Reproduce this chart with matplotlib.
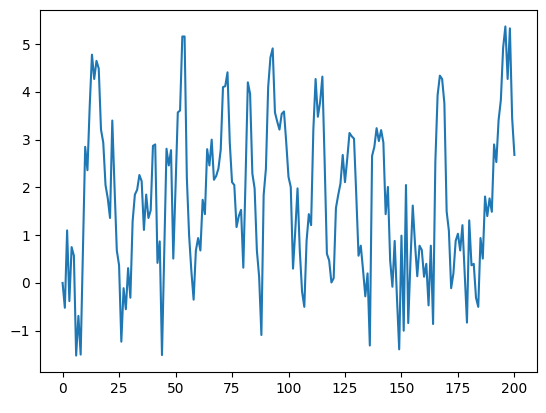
import numpy as np
import matplotlib
matplotlib.use('Agg')
import matplotlib.pyplot as plt

# values, one per step 0..200
steps = np.arange(201)
values = [
    0.0, -0.52, 1.1, -0.38, 0.75, 0.57, -1.52, -0.69, -1.5, 0.7,
    2.85, 2.36, 3.7, 4.78, 4.27, 4.65, 4.49, 3.21, 2.94, 2.05,
    1.77, 1.36, 3.40, 2.0, 0.68, 0.37, -1.23, -0.11, -0.55, 0.31,
    -0.31, 1.29, 1.85, 1.95, 2.26, 2.13, 1.11, 1.85, 1.36, 1.52,
    2.87, 2.9, 0.42, 0.87, -1.51, 0.6, 2.81, 2.46, 2.78, 0.51,
    2.0, 3.57, 3.61, 5.16, 5.16, 2.2, 1.0, 0.25, -0.35, 0.68,
    0.94, 0.68, 1.74, 1.44, 2.8, 2.46, 3.0, 2.16, 2.24, 2.4,
    2.79, 4.1, 4.12, 4.41, 2.94, 2.11, 2.05, 1.17, 1.4, 1.53,
    0.32, 2.2, 4.2, 3.96, 2.29, 1.98, 0.68, 0.13, -1.09, 1.84,
    2.39, 4.1, 4.72, 4.91, 3.57, 3.38, 3.21, 3.54, 3.59, 2.94,
    2.22, 2.01, 0.30, 1.1, 1.98, 0.68, -0.18, -0.5, 0.88, 1.44,
    1.21, 3.21, 4.27, 3.48, 3.79, 4.32, 2.53, 0.61, 0.47, 0.01,
    0.1, 1.57, 1.84, 2.08, 2.68, 2.11, 2.6, 3.14, 3.07, 3.02,
    1.84, 0.57, 0.78, 0.27, -0.28, 0.2, -1.31, 2.66, 2.85, 3.24,
    2.97, 3.2, 2.94, 1.44, 2.01, 0.47, -0.08, 0.88, -0.3, -1.39,
    0.99, -1.0, 2.05, -0.84, 0.47, 1.62, 0.82, 0.14, 0.78, 0.69,
    0.13, 0.4, -0.47, 0.78, -0.86, 2.53, 3.93, 4.34, 4.27, 3.76,
    1.5, 1.09, -0.11, 0.2, 0.88, 1.03, 0.68, 1.21, 0.2, -0.83,
    1.31, 0.37, 0.4, -0.31, -0.5, 0.94, 0.51, 1.81, 1.4, 1.77,
    1.49, 2.9, 2.53, 3.41, 3.83, 4.92, 5.37, 4.27, 5.33, 3.45,
    2.68,
]

fig = plt.figure(figsize=(5.46, 4.13), dpi=100)
ax = fig.add_axes([40 / 546, 41 / 413, 497 / 546, 362 / 413])
ax.plot(steps, values)

fig.savefig('out.png', dpi=100)
